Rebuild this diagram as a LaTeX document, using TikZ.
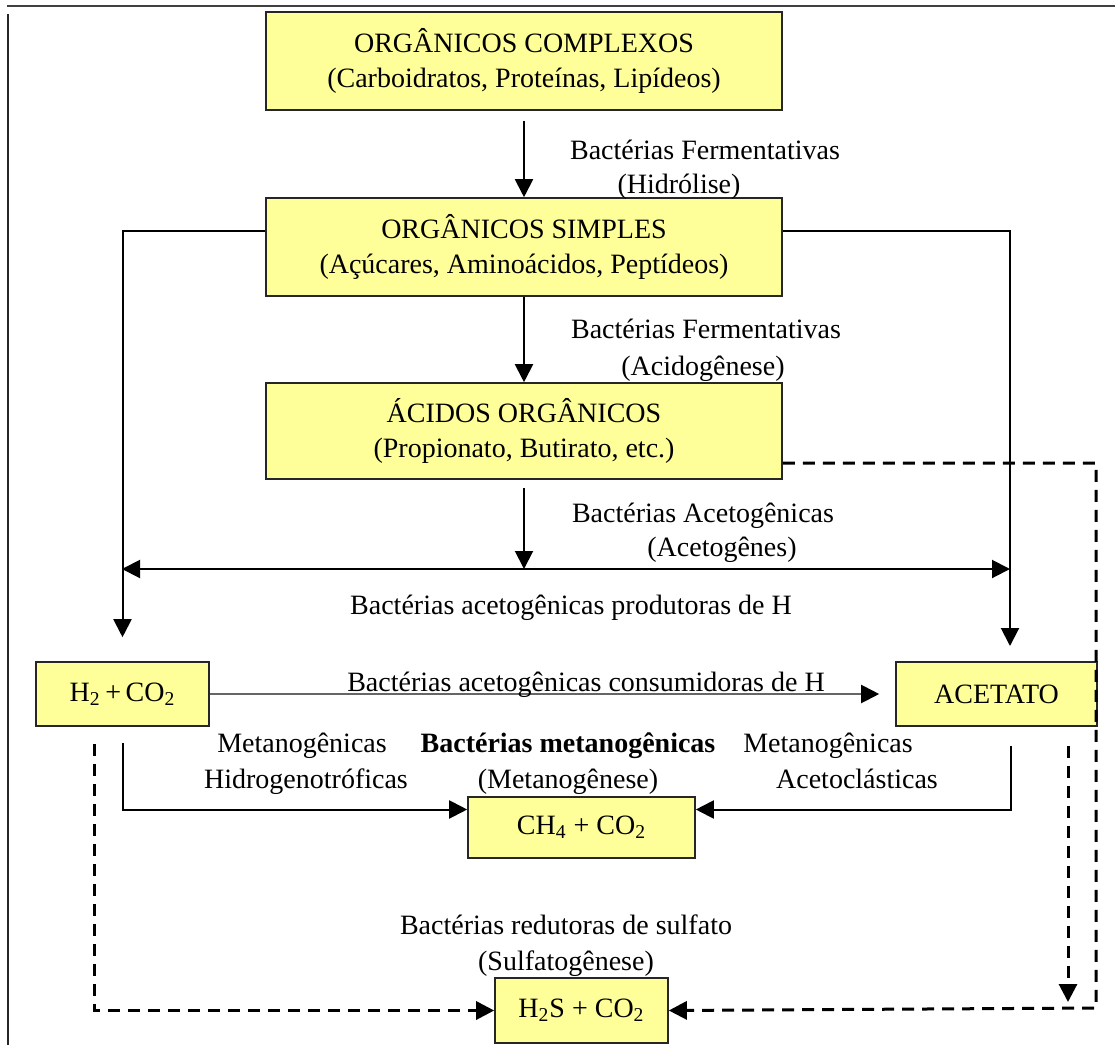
\documentclass[tikz,border=0pt]{standalone}
\usepackage{fontspec}
\setmainfont{Liberation Serif}
\usetikzlibrary{arrows.meta,positioning}
\definecolor{caixa}{HTML}{FFFF99}

\begin{document}
\begin{tikzpicture}[x=0.5pt, y=-0.5pt, font=\fontsize{14}{17.5}\selectfont,
  >={Triangle[length=9pt,width=9pt]},
  etapa/.style={rectangle, draw=black!85, fill=caixa, line width=0.8pt,
                inner sep=0pt, align=center},
  rotulo/.style={inner sep=0pt, text height=10pt, text depth=3pt},
  fluxo/.style={->, line width=1pt},
  tracejado/.style={->, line width=1.5pt, dash pattern=on 6pt off 4pt}]
  \useasboundingbox (0,0) rectangle (1115,1045);
  % moldura
  \draw[line width=1pt, black!75] (7,6) -- (1115,6);
  \draw[line width=1pt, black!85] (8,14) -- (8,1045);
  % caixas
  \node[etapa, minimum width=258pt, minimum height=49pt] (cplx) at (524,61)
    {ORGÂNICOS COMPLEXOS\\(Carboidratos, Proteínas, Lipídeos)};
  \node[etapa, minimum width=258pt, minimum height=49pt] (simp) at (524,247)
    {ORGÂNICOS SIMPLES\\(Açúcares, Aminoácidos, Peptídeos)};
  \node[etapa, minimum width=258pt, minimum height=48pt] (acid) at (524,431)
    {ÁCIDOS ORGÂNICOS\\(Propionato, Butirato, etc.)};
  \node[etapa, minimum width=86.5pt, minimum height=32pt] (htwo) at (122.5,694)
    {H\textsubscript{2}\,+\,CO\textsubscript{2}};
  \node[etapa, minimum width=100.5pt, minimum height=32pt] (acet) at (996.5,694)
    {ACETATO};
  \node[etapa, minimum width=113.5pt, minimum height=30.5pt] (meth) at (581.5,827.5)
    {CH\textsubscript{4} + CO\textsubscript{2}};
  \node[etapa, minimum width=86.5pt, minimum height=32.5pt] (sulf) at (581.5,1010.5)
    {H\textsubscript{2}S + CO\textsubscript{2}};
  % pontos auxiliares
  \coordinate (jl) at (122,569);
  \coordinate (jr) at (1010,569);
  \coordinate (ra) at (1010,646);
  \coordinate (cd) at (1096,1008);
  \coordinate (dd) at (1068,1002);
  % fluxo principal
  \draw[fluxo] ([yshift=-5pt]cplx.south) -- (simp.north);
  \draw[fluxo] (simp.south) -- (acid.north);
  \draw[fluxo] ([yshift=-4pt]acid.south) -- (acid.south |- jl);
  \draw[fluxo, <->] (jl) -- (jr);
  \draw[fluxo] ([yshift=8pt]simp.west) -| ([yshift=12pt]htwo.north);
  \draw[fluxo] ([yshift=8pt]simp.east) -| (ra);
  \draw[fluxo, draw=black!60, -{Triangle[length=9pt,width=9pt,color=black]}]
    (htwo.east) -- ([xshift=-8pt]acet.west);
  \draw[fluxo] ([yshift=-8pt]htwo.south) |- ([yshift=9pt]meth.west);
  \draw[fluxo] ([xshift=7pt,yshift=-9.5pt]acet.south) |- ([yshift=9pt]meth.east);
  % sulfatogenese
  \draw[tracejado] ([xshift=-14pt,yshift=-8.5pt]htwo.south) |- (sulf.west);
  \draw[tracejado] ([yshift=-16pt]acid.east) -| (cd) -- (sulf.east);
  \draw[tracejado] ([xshift=35.75pt,yshift=-9.5pt]acet.south) -- (dd);
  % rotulos
  \node[rotulo] (lhid1) at (705,152) {Bactérias Fermentativas};
  \node[rotulo] (lhid2) at (679,186) {(Hidrólise)};
  \node[rotulo] (lacd1) at (706,331) {Bactérias Fermentativas};
  \node[rotulo] (lacd2) at (703,368) {(Acidogênese)};
  \node[rotulo] (lact1) at (703,515) {Bactérias Acetogênicas};
  \node[rotulo] (lact2) at (722,549) {(Acetogênes)};
  \node[rotulo] (lprod) at (571,607) {Bactérias acetogênicas produtoras de H};
  \node[rotulo] (lcons) at (586,684) {Bactérias acetogênicas consumidoras de H};
  \node[rotulo] (lhidr1) at (302,745) {Metanogênicas};
  \node[rotulo] (lhidr2) at (306,781) {Hidrogenotróficas};
  \node[rotulo] (lmet1) at (568,745) {\textbf{Bactérias metanogênicas}};
  \node[rotulo] (lmet2) at (568,781) {(Metanogênese)};
  \node[rotulo] (lacl1) at (828,745) {Metanogênicas};
  \node[rotulo] (lacl2) at (857,781) {Acetoclásticas};
  \node[rotulo] (lsul1) at (566,927) {Bactérias redutoras de sulfato};
  \node[rotulo] (lsul2) at (566,963) {(Sulfatogênese)};
\end{tikzpicture}
\end{document}
